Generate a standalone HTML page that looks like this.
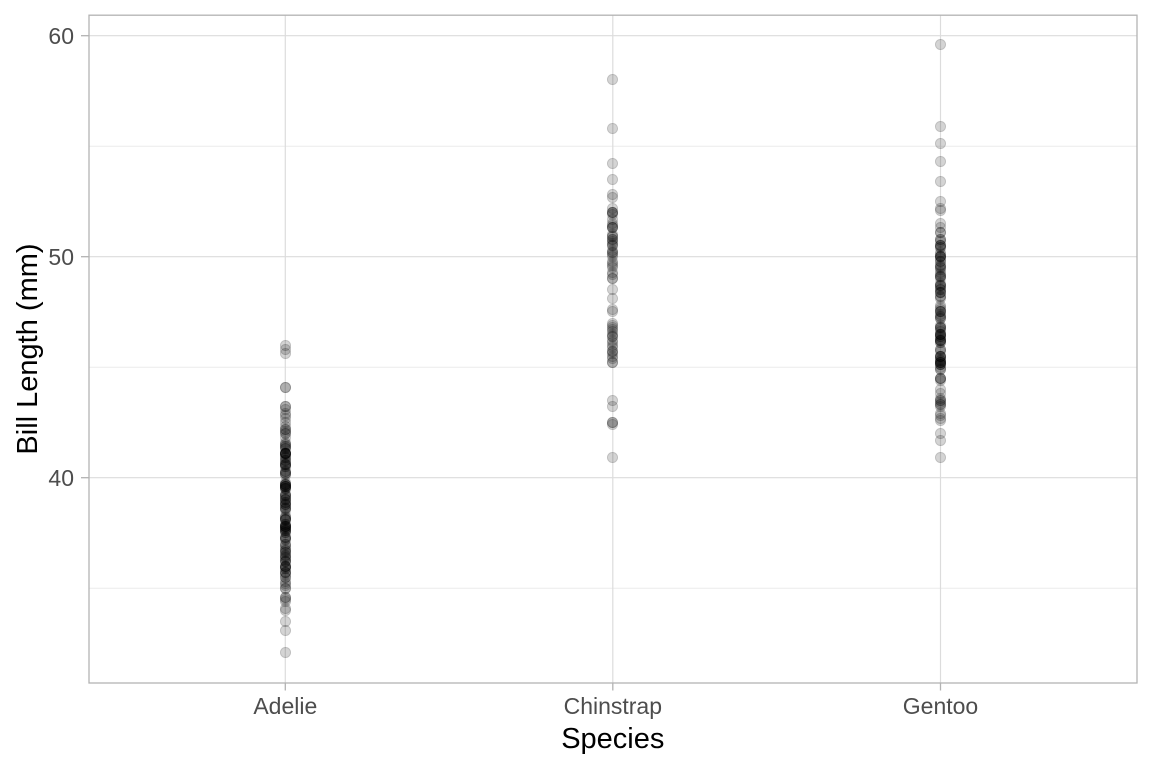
<!DOCTYPE html>
<html><head><meta charset="utf-8"><style>
html,body{margin:0;padding:0;background:#fff;}
#c{position:relative;width:1152px;height:768px;overflow:hidden;background:#fff;font-family:"Liberation Sans",Arial,sans-serif;}
svg{position:absolute;left:0;top:0;}
.s{position:absolute;left:0;top:0;width:0;height:0;}
.s i{position:absolute;width:9px;height:9px;border:1px solid rgba(0,0,0,0.1);background:rgba(0,0,0,0.17);border-radius:50%;left:-5.5px;top:calc(1361.7px - var(--v) * 22.1px - 5.5px);}
</style></head><body><div id="c">
<svg width="1152" height="768" viewBox="0 0 1152 768">
<g stroke="#ececec" stroke-width="1">
<line x1="89" y1="146.2" x2="1137" y2="146.2"/>
<line x1="89" y1="367.2" x2="1137" y2="367.2"/>
<line x1="89" y1="588.2" x2="1137" y2="588.2"/>
</g>
<g stroke="#dcdcdc" stroke-width="1.2">
<line x1="89" y1="35.7" x2="1137" y2="35.7"/>
<line x1="89" y1="256.7" x2="1137" y2="256.7"/>
<line x1="89" y1="477.7" x2="1137" y2="477.7"/>
<line x1="285.3" y1="15" x2="285.3" y2="683"/>
<line x1="612.8" y1="15" x2="612.8" y2="683"/>
<line x1="940.5" y1="15" x2="940.5" y2="683"/>
</g>
<rect x="89" y="15.2" width="1048" height="667.8" fill="none" stroke="#b3b3b3" stroke-width="1.3"/>
<g stroke="#b3b3b3" stroke-width="1.3">
<line x1="81" y1="35.7" x2="89" y2="35.7"/>
<line x1="81" y1="256.7" x2="89" y2="256.7"/>
<line x1="81" y1="477.7" x2="89" y2="477.7"/>
<line x1="285.3" y1="683" x2="285.3" y2="690.5"/>
<line x1="612.8" y1="683" x2="612.8" y2="690.5"/>
<line x1="940.5" y1="683" x2="940.5" y2="690.5"/>
</g>
<g fill="#4d4d4d" font-size="23" font-family="Liberation Sans, Arial, sans-serif">
<text x="74" y="44" text-anchor="end">60</text>
<text x="74" y="265" text-anchor="end">50</text>
<text x="74" y="486" text-anchor="end">40</text>
<text x="285.3" y="714" text-anchor="middle">Adelie</text>
<text x="612.8" y="714" text-anchor="middle">Chinstrap</text>
<text x="940.5" y="714" text-anchor="middle">Gentoo</text>
</g>
<text x="612.8" y="748" text-anchor="middle" font-size="29" fill="#000" font-family="Liberation Sans, Arial, sans-serif">Species</text>
<text transform="translate(37,349) rotate(-90)" text-anchor="middle" font-size="29" fill="#000" font-family="Liberation Sans, Arial, sans-serif">Bill Length (mm)</text>
</svg>
<div class="s" style="left:285.3px">
<i style="--v:39.1"></i><i style="--v:39.5"></i><i style="--v:40.3"></i><i style="--v:36.7"></i><i style="--v:39.3"></i><i style="--v:38.9"></i><i style="--v:39.2"></i><i style="--v:34.1"></i><i style="--v:42"></i><i style="--v:37.8"></i><i style="--v:37.8"></i><i style="--v:41.1"></i><i style="--v:38.6"></i><i style="--v:34.6"></i><i style="--v:36.6"></i><i style="--v:38.7"></i><i style="--v:42.5"></i><i style="--v:34.4"></i><i style="--v:46"></i><i style="--v:37.8"></i><i style="--v:37.7"></i><i style="--v:35.9"></i><i style="--v:38.2"></i><i style="--v:38.8"></i><i style="--v:35.3"></i><i style="--v:40.6"></i><i style="--v:40.5"></i><i style="--v:37.9"></i><i style="--v:40.5"></i><i style="--v:39.5"></i><i style="--v:37.2"></i><i style="--v:39.5"></i><i style="--v:40.9"></i><i style="--v:36.4"></i><i style="--v:39.2"></i><i style="--v:38.8"></i><i style="--v:42.2"></i><i style="--v:37.6"></i><i style="--v:39.8"></i><i style="--v:36.5"></i><i style="--v:40.8"></i><i style="--v:36"></i><i style="--v:44.1"></i><i style="--v:37"></i><i style="--v:39.6"></i><i style="--v:41.1"></i><i style="--v:37.5"></i><i style="--v:36"></i><i style="--v:42.3"></i><i style="--v:39.6"></i><i style="--v:40.1"></i><i style="--v:35"></i><i style="--v:42"></i><i style="--v:34.5"></i><i style="--v:41.4"></i><i style="--v:39"></i><i style="--v:40.6"></i><i style="--v:36.5"></i><i style="--v:37.6"></i><i style="--v:35.7"></i><i style="--v:41.3"></i><i style="--v:37.6"></i><i style="--v:41.1"></i><i style="--v:36.4"></i><i style="--v:41.6"></i><i style="--v:35.5"></i><i style="--v:41.1"></i><i style="--v:35.9"></i><i style="--v:41.8"></i><i style="--v:33.5"></i><i style="--v:39.7"></i><i style="--v:39.6"></i><i style="--v:45.8"></i><i style="--v:35.5"></i><i style="--v:42.8"></i><i style="--v:40.9"></i><i style="--v:37.2"></i><i style="--v:36.2"></i><i style="--v:42.1"></i><i style="--v:34.6"></i><i style="--v:42.9"></i><i style="--v:36.7"></i><i style="--v:35.1"></i><i style="--v:37.3"></i><i style="--v:41.3"></i><i style="--v:36.3"></i><i style="--v:36.9"></i><i style="--v:38.3"></i><i style="--v:38.9"></i><i style="--v:35.7"></i><i style="--v:41.1"></i><i style="--v:34"></i><i style="--v:39.6"></i><i style="--v:36.2"></i><i style="--v:40.8"></i><i style="--v:38.1"></i><i style="--v:40.3"></i><i style="--v:33.1"></i><i style="--v:43.2"></i><i style="--v:35"></i><i style="--v:41"></i><i style="--v:37.7"></i><i style="--v:37.8"></i><i style="--v:37.9"></i><i style="--v:39.7"></i><i style="--v:38.6"></i><i style="--v:38.2"></i><i style="--v:38.1"></i><i style="--v:43.2"></i><i style="--v:38.1"></i><i style="--v:45.6"></i><i style="--v:39.7"></i><i style="--v:42.2"></i><i style="--v:39.6"></i><i style="--v:42.7"></i><i style="--v:38.6"></i><i style="--v:37.3"></i><i style="--v:35.7"></i><i style="--v:41.1"></i><i style="--v:36.2"></i><i style="--v:37.7"></i><i style="--v:40.2"></i><i style="--v:41.4"></i><i style="--v:35.2"></i><i style="--v:40.6"></i><i style="--v:38.8"></i><i style="--v:41.5"></i><i style="--v:39"></i><i style="--v:44.1"></i><i style="--v:38.5"></i><i style="--v:43.1"></i><i style="--v:36.8"></i><i style="--v:37.5"></i><i style="--v:38.1"></i><i style="--v:41.1"></i><i style="--v:35.6"></i><i style="--v:40.2"></i><i style="--v:37"></i><i style="--v:39.7"></i><i style="--v:40.2"></i><i style="--v:40.6"></i><i style="--v:32.1"></i><i style="--v:40.7"></i><i style="--v:37.3"></i><i style="--v:39"></i><i style="--v:39.2"></i><i style="--v:36.6"></i><i style="--v:36"></i><i style="--v:37.8"></i><i style="--v:36"></i><i style="--v:41.5"></i>
</div>
<div class="s" style="left:612.8px">
<i style="--v:46.5"></i><i style="--v:50"></i><i style="--v:51.3"></i><i style="--v:45.4"></i><i style="--v:52.7"></i><i style="--v:45.2"></i><i style="--v:46.1"></i><i style="--v:51.3"></i><i style="--v:46"></i><i style="--v:51.3"></i><i style="--v:46.6"></i><i style="--v:51.7"></i><i style="--v:47"></i><i style="--v:52"></i><i style="--v:45.9"></i><i style="--v:50.5"></i><i style="--v:50.3"></i><i style="--v:58"></i><i style="--v:46.4"></i><i style="--v:49.2"></i><i style="--v:42.4"></i><i style="--v:48.5"></i><i style="--v:43.2"></i><i style="--v:50.6"></i><i style="--v:46.7"></i><i style="--v:52"></i><i style="--v:50.5"></i><i style="--v:49.5"></i><i style="--v:46.4"></i><i style="--v:52.8"></i><i style="--v:40.9"></i><i style="--v:54.2"></i><i style="--v:42.5"></i><i style="--v:51"></i><i style="--v:49.7"></i><i style="--v:47.5"></i><i style="--v:47.6"></i><i style="--v:52"></i><i style="--v:46.9"></i><i style="--v:53.5"></i><i style="--v:49"></i><i style="--v:46.2"></i><i style="--v:50.9"></i><i style="--v:45.5"></i><i style="--v:50.9"></i><i style="--v:50.8"></i><i style="--v:50.1"></i><i style="--v:49"></i><i style="--v:51.5"></i><i style="--v:49.8"></i><i style="--v:48.1"></i><i style="--v:51.4"></i><i style="--v:45.7"></i><i style="--v:50.7"></i><i style="--v:42.5"></i><i style="--v:52.2"></i><i style="--v:45.2"></i><i style="--v:49.3"></i><i style="--v:50.2"></i><i style="--v:45.6"></i><i style="--v:51.9"></i><i style="--v:46.8"></i><i style="--v:45.7"></i><i style="--v:55.8"></i><i style="--v:43.5"></i><i style="--v:49.6"></i><i style="--v:50.8"></i><i style="--v:50.2"></i>
</div>
<div class="s" style="left:940.5px">
<i style="--v:46.1"></i><i style="--v:50"></i><i style="--v:48.7"></i><i style="--v:50"></i><i style="--v:47.6"></i><i style="--v:46.5"></i><i style="--v:45.4"></i><i style="--v:46.7"></i><i style="--v:43.3"></i><i style="--v:46.8"></i><i style="--v:40.9"></i><i style="--v:49"></i><i style="--v:45.5"></i><i style="--v:48.4"></i><i style="--v:45.8"></i><i style="--v:49.3"></i><i style="--v:42"></i><i style="--v:49.2"></i><i style="--v:46.2"></i><i style="--v:48.7"></i><i style="--v:50.2"></i><i style="--v:45.1"></i><i style="--v:46.5"></i><i style="--v:46.3"></i><i style="--v:42.9"></i><i style="--v:46.1"></i><i style="--v:44.5"></i><i style="--v:47.8"></i><i style="--v:48.2"></i><i style="--v:50"></i><i style="--v:47.3"></i><i style="--v:42.8"></i><i style="--v:45.1"></i><i style="--v:59.6"></i><i style="--v:49.1"></i><i style="--v:48.4"></i><i style="--v:42.6"></i><i style="--v:44.4"></i><i style="--v:44"></i><i style="--v:48.7"></i><i style="--v:42.7"></i><i style="--v:49.6"></i><i style="--v:45.3"></i><i style="--v:49.6"></i><i style="--v:50.5"></i><i style="--v:43.6"></i><i style="--v:45.5"></i><i style="--v:50.5"></i><i style="--v:44.9"></i><i style="--v:45.2"></i><i style="--v:46.6"></i><i style="--v:48.5"></i><i style="--v:45.1"></i><i style="--v:50.1"></i><i style="--v:46.5"></i><i style="--v:45"></i><i style="--v:43.8"></i><i style="--v:45.5"></i><i style="--v:43.2"></i><i style="--v:50.4"></i><i style="--v:45.3"></i><i style="--v:46.2"></i><i style="--v:45.7"></i><i style="--v:54.3"></i><i style="--v:45.8"></i><i style="--v:49.8"></i><i style="--v:46.2"></i><i style="--v:49.5"></i><i style="--v:43.5"></i><i style="--v:50.7"></i><i style="--v:47.7"></i><i style="--v:46.4"></i><i style="--v:48.2"></i><i style="--v:46.5"></i><i style="--v:46.4"></i><i style="--v:48.6"></i><i style="--v:47.5"></i><i style="--v:51.1"></i><i style="--v:45.2"></i><i style="--v:45.2"></i><i style="--v:49.1"></i><i style="--v:52.5"></i><i style="--v:47.4"></i><i style="--v:50"></i><i style="--v:44.9"></i><i style="--v:50.8"></i><i style="--v:43.4"></i><i style="--v:51.3"></i><i style="--v:47.5"></i><i style="--v:52.1"></i><i style="--v:47.5"></i><i style="--v:52.2"></i><i style="--v:45.5"></i><i style="--v:49.5"></i><i style="--v:44.5"></i><i style="--v:50.8"></i><i style="--v:49.4"></i><i style="--v:46.9"></i><i style="--v:48.4"></i><i style="--v:51.1"></i><i style="--v:48.5"></i><i style="--v:55.9"></i><i style="--v:47.2"></i><i style="--v:49.1"></i><i style="--v:47.3"></i><i style="--v:46.8"></i><i style="--v:41.7"></i><i style="--v:53.4"></i><i style="--v:43.3"></i><i style="--v:48.1"></i><i style="--v:50.5"></i><i style="--v:49.8"></i><i style="--v:43.5"></i><i style="--v:51.5"></i><i style="--v:46.2"></i><i style="--v:55.1"></i><i style="--v:44.5"></i><i style="--v:48.8"></i><i style="--v:47.2"></i><i style="--v:46.8"></i><i style="--v:50.4"></i><i style="--v:45.2"></i><i style="--v:49.9"></i>
</div>
</div></body></html>
